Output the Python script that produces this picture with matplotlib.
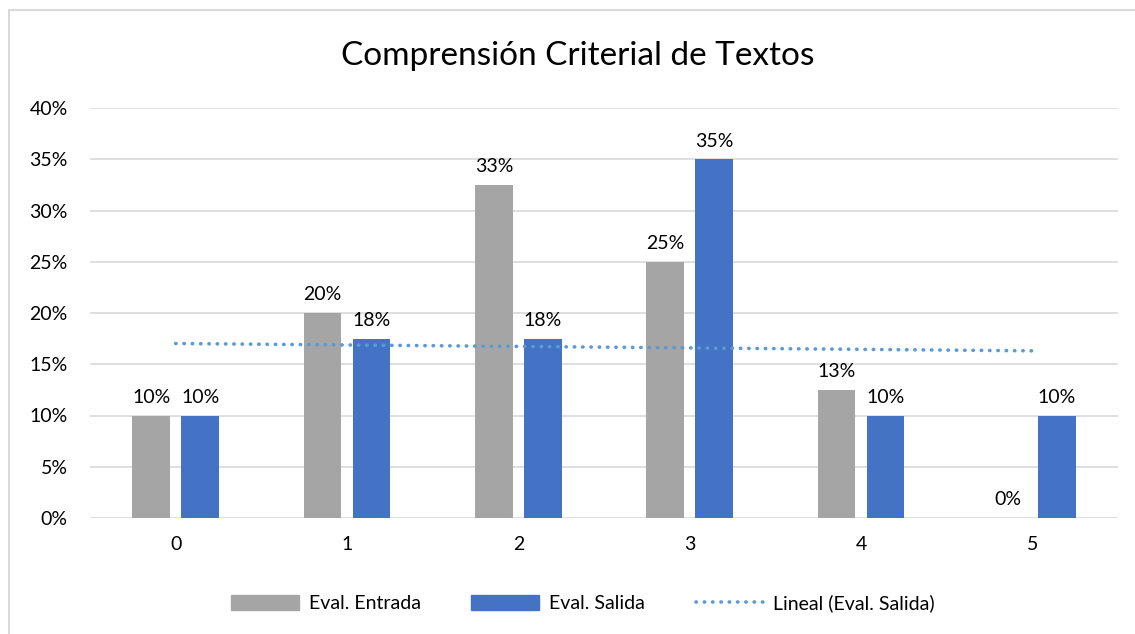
import numpy as np
import matplotlib
matplotlib.use("Agg")
from matplotlib import pyplot as plt
from matplotlib.patches import Rectangle
from matplotlib.lines import Line2D
from matplotlib.ticker import FuncFormatter

plt.rcParams['font.family'] = ['Lato', 'DejaVu Sans']

categories = ['0', '1', '2', '3', '4', '5']
entrada = [10, 20, 32.5, 25, 12.5, 0]
salida = [10, 17.5, 17.5, 35, 10, 10]
entrada_labels = ['10%', '20%', '33%', '25%', '13%', '0%']
salida_labels = ['10%', '18%', '18%', '35%', '10%', '10%']

gray = '#A5A5A5'
blue = '#4472C4'
trend_color = '#5B9BD5'
fs = 14
dots = (0, (0.1, 2.2))

fig = plt.figure(figsize=(11.35, 6.34), dpi=100)
W, H = 1135, 634
ax = fig.add_axes([90 / W, 1 - 518 / H, (1118 - 90) / W, (518 - 108) / H])

x = np.arange(len(categories))
bw = 0.22
off = 0.143
ax.bar(x - off, entrada, bw, color=gray, zorder=3)
ax.bar(x + off, salida, bw, color=blue, zorder=3)

for xi, v, lab in zip(x, entrada, entrada_labels):
    ax.annotate(lab, (xi - off, v), xytext=(0, 7), textcoords='offset points',
                ha='center', va='bottom', fontsize=fs, color='#000000')
for xi, v, lab in zip(x, salida, salida_labels):
    ax.annotate(lab, (xi + off, v), xytext=(0, 7), textcoords='offset points',
                ha='center', va='bottom', fontsize=fs, color='#000000')

# linear trendline of Eval. Salida
p = np.polyfit(x + 1, salida, 1)
tx = np.array([0, 5])
ax.plot(tx, np.polyval(p, tx + 1), color=trend_color, lw=2.6,
        linestyle=dots, dash_capstyle='round', zorder=4)

ax.set_xlim(-0.5, 5.5)
ax.set_ylim(0, 40)
ax.set_yticks(np.arange(0, 41, 5))
ax.yaxis.set_major_formatter(FuncFormatter(lambda v, _: f'{v:.0f}%'))
ax.set_xticks(x)
ax.set_xticklabels(categories)
ax.tick_params(axis='both', length=0, labelsize=fs, colors='#000000')
ax.tick_params(axis='x', pad=13)
ax.tick_params(axis='y', pad=16)
ax.grid(axis='y', color='#D9D9D9', lw=1.2, zorder=0)
for s in ax.spines.values():
    s.set_visible(False)

fig.text(578 / W, 1 - 56 / H, 'Comprensión Criterial de Textos', ha='center',
         va='center', fontsize=24, color='#000000')

handles = [Rectangle((0, 0), 1, 1, color=gray),
           Rectangle((0, 0), 1, 1, color=blue),
           Line2D([], [], color=trend_color, lw=2.6, linestyle=dots,
                  dash_capstyle='round')]
fig.legend(handles, ['Eval. Entrada', 'Eval. Salida', 'Lineal (Eval. Salida)'],
           loc='center', bbox_to_anchor=(583 / W, 1 - 603 / H), ncol=3,
           frameon=False, fontsize=fs, handlelength=3.5, handleheight=0.8,
           columnspacing=2.6, handletextpad=0.5)

fig.patches.append(Rectangle((9 / W, -0.1), 1.2, 1 - 10 / H + 0.1,
                             transform=fig.transFigure, fill=False,
                             edgecolor='#D9D9D9', lw=1.5))

fig.savefig('out.png', dpi=100)
